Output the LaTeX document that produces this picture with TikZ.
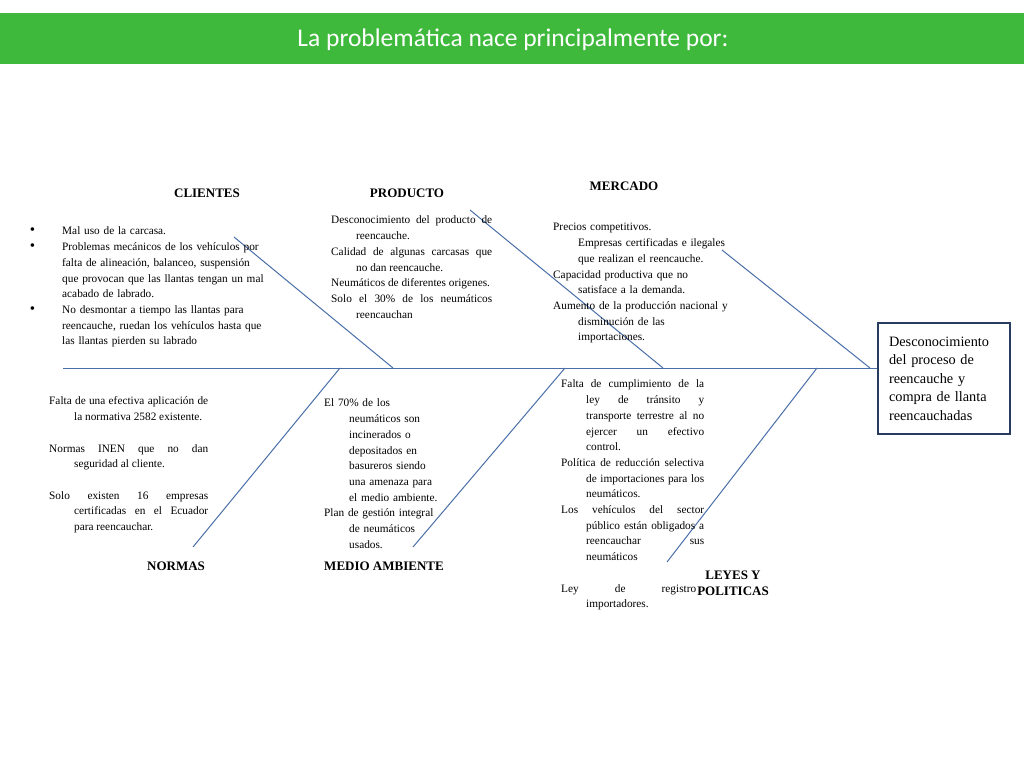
\documentclass[tikz,border=0pt]{standalone}
\usepackage{fontspec}
\setmainfont{Liberation Serif}
\newfontfamily\titlefont{Carlito}
\usepackage{tikz}
\usepackage{xcolor}
\definecolor{bargreen}{RGB}{62,185,60}
\definecolor{boneblue}{RGB}{74,110,168}
\definecolor{boxnavy}{RGB}{40,60,95}
\newcommand\hng{\par\hangindent=25pt\hangafter=1\noindent}
\newcommand\blt{\par\hangindent=0pt\noindent\llap{{\fontsize{15}{15}\selectfont\textbullet}\hspace{27pt}}}

\begin{document}
\begin{tikzpicture}[x=1pt,y=-1pt,
  bone/.style={draw=boneblue,line width=1pt},
  head/.style={font=\bfseries\fontsize{13}{16}\selectfont,align=center,inner sep=0pt},
  causes/.style={font=\fontsize{11.3}{15.7}\selectfont,inner sep=0pt,anchor=north west,align=justify},
  causesrag/.style={causes,align=left},
  effect/.style={draw=boxnavy,line width=2.5pt,minimum width=132pt,minimum height=111pt,
    text width=110pt,align=left,font=\fontsize{14.3}{18.5}\selectfont}]
  \useasboundingbox (0,0) rectangle (1024,768);
  \path[fill=bargreen] (0,13) rectangle (1024,64);
  \node[font=\titlefont\fontsize{25.5}{30}\selectfont,text=white] (title) at (513,40) {La problemática nace principalmente por:};

  \node[effect] (effect) at (944,378.5) {Desconocimiento\\del proceso de\\reencauche y\\compra de llanta\\reencauchadas};
  \coordinate (tail) at (63,368);
  \draw[bone] (tail) -- (tail -| effect.west);

  \coordinate (cli1) at (234,237);
  \coordinate (cli2) at (393,368);
  \coordinate (pro1) at (470,210);
  \coordinate (pro2) at (663,368);
  \coordinate (mer1) at (722,250);
  \coordinate (mer2) at (870,368);
  \coordinate (nor1) at (193,547);
  \coordinate (nor2) at (340,368);
  \coordinate (med1) at (413,547);
  \coordinate (med2) at (565,368);
  \coordinate (ley1) at (667,562);
  \coordinate (ley2) at (817,368);
  \draw[bone] (cli1) -- (cli2);
  \draw[bone] (pro1) -- (pro2);
  \draw[bone] (mer1) -- (mer2);
  \draw[bone] (nor1) -- (nor2);
  \draw[bone] (med1) -- (med2);
  \draw[bone] (ley1) -- (ley2);

  \node[head] (clihead) at (207,193) {CLIENTES};
  \node[head] (prohead) at (407,193) {PRODUCTO};
  \node[head] (merhead) at (624,186) {MERCADO};
  \node[head] (norhead) at (176,566) {NORMAS};
  \node[head] (medhead) at (384,566) {MEDIO AMBIENTE};
  \node[head] (leyhead) at (733,583) {LEYES Y\\POLITICAS};

  \node[causesrag,text width=215pt] (clitxt) at (62,219) {\blt Mal uso de la carcasa.\blt Problemas mecánicos de los vehículos por\newline falta de alineación, balanceo, suspensión\newline que provocan que las llantas tengan un mal\newline acabado de labrado.\blt No desmontar a tiempo las llantas para\newline reencauche, ruedan los vehículos hasta que\newline las llantas pierden su labrado\par};
  \node[causes,text width=161pt] (protxt) at (331,208) {\hng Desconocimiento del producto de\linebreak reencauche.\hng Calidad de algunas carcasas que\linebreak no dan reencauche.\hng Neumáticos de diferentes origenes.\hng Solo el 30\% de los neumáticos\linebreak reencauchan\par};
  \node[causesrag,text width=180pt] (mertxt) at (553,215) {\hng Precios competitivos.\newline Empresas certificadas e ilegales\newline que realizan el reencauche.\hng Capacidad productiva que no\newline satisface a la demanda.\hng Aumento de la producción nacional y\newline disminución de las\newline importaciones.\par};
  \node[causes,text width=159pt] (nortxt) at (49,389) {\hng Falta de una efectiva aplicación de\linebreak la normativa 2582 existente.\par\vspace{15.7pt}\hng Normas INEN que no dan\linebreak seguridad al cliente.\par\vspace{15.7pt}\hng Solo existen 16 empresas\linebreak certificadas en el Ecuador\linebreak para reencauchar.\par};
  \begin{scope}
    \clip (300,390) rectangle (480,549);
    \node[causesrag,text width=140pt] (medtxt) at (324,391) {\hng El 70\% de los\newline neumáticos son\newline incinerados o\newline depositados en\newline basureros siendo\newline una amenaza para\newline el medio ambiente.\hng Plan de gestión integral\newline de neumáticos\newline usados.\par};
  \end{scope}
  \node[causes,text width=143pt] (leytxt) at (561,372) {\hng Falta de cumplimiento de la\linebreak ley de tránsito y\linebreak transporte terrestre al no\linebreak ejercer un efectivo\linebreak control.\hng Política de reducción selectiva\linebreak de importaciones para los\linebreak neumáticos.\hng Los vehículos del sector\linebreak público están obligados a\linebreak reencauchar sus\linebreak neumáticos\par\vspace{15.7pt}\parshape 2 0pt 135pt 25pt 110pt\noindent Ley de registro\linebreak importadores.\par};
\end{tikzpicture}
\end{document}
